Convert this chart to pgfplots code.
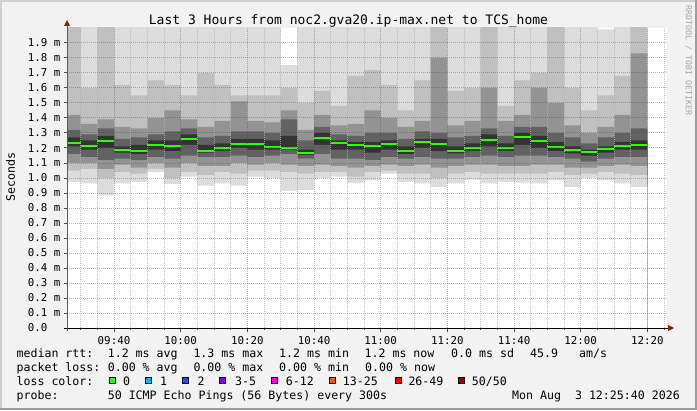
\documentclass[border=0pt]{standalone}
\usepackage{fontspec}
\setmainfont{DejaVu Sans Mono}
\usepackage{pgfplots}
\usepackage{pgfplotstable}
\pgfplotsset{compat=1.18}

\definecolor{bg}{HTML}{F2F2F2}
\definecolor{sa}{HTML}{DCDCDC}
\definecolor{sb}{HTML}{C0C0C0}
\definecolor{sc}{HTML}{939393}
\definecolor{sd}{HTML}{626262}
\definecolor{se}{HTML}{333333}
\definecolor{medgreen}{HTML}{2EFF00}
\definecolor{arrowred}{HTML}{8B1A1A}
\definecolor{lc0}{HTML}{26FF00}
\definecolor{lc1}{HTML}{00B8FF}
\definecolor{lc2}{HTML}{0059FF}
\definecolor{lc3}{HTML}{7E00FF}
\definecolor{lc6}{HTML}{FF00FF}
\definecolor{lc13}{HTML}{FF5500}
\definecolor{lc26}{HTML}{FF0000}
\definecolor{lc50}{HTML}{A00000}

% t = minutes after 09:00; one row per 5-minute smoke column
\pgfplotstableread{
t    mn    p05  p15  p30  p42   med   p58  p70  p85  p95  mx
25.9 0.975 1.05 1.10 1.16 1.21  1.235 1.27 1.32 1.42 2.10 2.10
30   0.965 1.06 1.10 1.14 1.19  1.213 1.25 1.29 1.36 1.60 2.10
35   0.885 1.00 1.06 1.12 1.20  1.249 1.28 1.33 1.39 2.10 2.10
40   0.965 1.04 1.09 1.13 1.17  1.189 1.21 1.26 1.34 1.62 2.10
45   0.975 1.03 1.07 1.12 1.16  1.182 1.22 1.27 1.33 1.55 2.10
50   1.040 1.06 1.10 1.14 1.19  1.220 1.25 1.29 1.40 1.65 2.10
55   0.960 1.00 1.07 1.13 1.18  1.215 1.25 1.31 1.45 1.62 2.10
60   1.010 1.04 1.10 1.15 1.22  1.262 1.29 1.33 1.39 1.55 2.10
65   0.950 1.02 1.08 1.14 1.17  1.182 1.22 1.27 1.34 1.70 2.10
70   0.965 1.04 1.08 1.14 1.18  1.202 1.23 1.28 1.38 1.62 2.10
75   0.950 1.03 1.10 1.15 1.20  1.229 1.26 1.31 1.51 1.55 2.10
80   1.010 1.05 1.09 1.14 1.19  1.229 1.26 1.31 1.38 1.55 2.10
85   1.000 1.05 1.10 1.15 1.19  1.207 1.25 1.30 1.37 1.55 2.10
90   0.915 1.04 1.09 1.16 1.19  1.202 1.28 1.39 1.45 1.60 1.753
95   0.920 1.03 1.08 1.13 1.155 1.169 1.19 1.25 1.32 1.50 2.10
100  1.000 1.04 1.09 1.16 1.22  1.269 1.30 1.34 1.42 1.58 2.10
105  1.010 1.04 1.08 1.13 1.19  1.235 1.25 1.29 1.35 1.48 2.10
110  0.970 1.01 1.07 1.13 1.19  1.220 1.24 1.28 1.36 1.68 2.10
115  0.985 1.04 1.08 1.12 1.17  1.213 1.24 1.30 1.45 1.72 2.10
120  1.030 1.05 1.09 1.14 1.19  1.227 1.25 1.30 1.40 1.62 2.10
125  0.975 1.03 1.08 1.13 1.16  1.182 1.21 1.26 1.34 1.45 2.10
130  0.965 1.03 1.09 1.14 1.20  1.240 1.26 1.31 1.38 1.65 2.10
135  0.940 1.00 1.07 1.13 1.18  1.227 1.26 1.30 1.80 2.10 2.10
140  0.965 1.03 1.08 1.13 1.165 1.182 1.21 1.27 1.35 1.58 2.10
145  0.990 1.04 1.09 1.14 1.18  1.198 1.23 1.28 1.38 1.60 2.10
150  0.965 1.03 1.09 1.15 1.21  1.256 1.29 1.33 1.60 2.10 2.10
155  0.975 1.03 1.08 1.14 1.18  1.202 1.23 1.28 1.38 1.48 2.10
160  0.970 1.03 1.08 1.15 1.22  1.276 1.30 1.34 1.42 1.65 2.10
165  0.965 1.03 1.09 1.15 1.20  1.249 1.28 1.34 1.60 1.70 2.10
170  0.985 1.04 1.09 1.14 1.18  1.209 1.24 1.30 1.50 2.10 2.10
175  0.940 1.02 1.07 1.13 1.165 1.189 1.21 1.27 1.35 1.60 2.10
180  1.000 1.03 1.07 1.11 1.15  1.176 1.19 1.23 1.30 1.45 2.10
185  0.985 1.04 1.08 1.13 1.17  1.191 1.21 1.27 1.34 1.55 1.99
190  0.965 1.03 1.09 1.14 1.19  1.215 1.24 1.30 1.42 1.68 2.10
195  0.940 1.02 1.08 1.14 1.19  1.222 1.25 1.33 1.83 2.10 2.10
200  0.940 1.02 1.08 1.14 1.19  1.222 1.25 1.33 1.83 2.10 2.10
}\smoke

\newcommand{\lf}{\fontsize{11.6bp}{13bp}\selectfont}

\begin{document}
\begin{tikzpicture}[x=1bp,y=1bp]
\useasboundingbox (0,0) rectangle (697,410);
\fill[bg] (0,0) rectangle (697,410);
\fill[black!19] (0,408) rectangle (697,410);
\fill[black!19] (0,0) rectangle (2,410);
\fill[black!38] (0,0) rectangle (697,2);
\fill[black!38] (695,0) rectangle (697,410);

\begin{axis}[
  at={(67bp,82bp)}, anchor=south west,
  scale only axis, width=600bp, height=300bp,
  xmin=25.9, xmax=205.9, ymin=0, ymax=2.0,
  axis on top,
  axis background/.style={fill=white},
  axis x line*=bottom, axis y line*=left,
  x axis line style={black, line width=1bp},
  y axis line style={black!65, line width=1bp},
  xtick={40,60,80,100,120,140,160,180,200},
  xticklabels={09:40,10:00,10:20,10:40,11:00,11:20,11:40,12:00,12:20},
  minor xtick={30,35,45,50,55,65,70,75,85,90,95,105,110,115,125,130,135,145,150,155,165,170,175,185,190,195,205},
  ytick={0,0.1,0.2,0.3,0.4,0.5,0.6,0.7,0.8,0.9,1.0,1.1,1.2,1.3,1.4,1.5,1.6,1.7,1.8,1.9},
  yticklabels={0.0\phantom{ m},0.1 m,0.2 m,0.3 m,0.4 m,0.5 m,0.6 m,0.7 m,0.8 m,0.9 m,1.0 m,1.1 m,1.2 m,1.3 m,1.4 m,1.5 m,1.6 m,1.7 m,1.8 m,1.9 m},
  tick align=outside,
  major tick length=3.5bp, minor tick length=2bp,
  tick style={black!70, line width=1bp},
  xmajorgrids, xminorgrids, ymajorgrids,
  major grid style={draw=red, draw opacity=0.4, dash pattern=on 1bp off 1bp, line width=1bp},
  minor grid style={draw=black!30, draw opacity=0.8, dash pattern=on 1bp off 1bp, line width=1bp},
  xticklabel style={font=\fontsize{10.8bp}{12bp}\selectfont, anchor=north, inner sep=0pt, yshift=-5bp},
  yticklabel style={font=\fontsize{10.8bp}{12bp}\selectfont, anchor=east, inner sep=0pt, xshift=-3bp},
]
\addplot[const plot, fill=sa, draw=none] table[x=t,y=mx]{\smoke} \closedcycle;
\addplot[const plot, fill=sb, draw=none] table[x=t,y=p95]{\smoke} \closedcycle;
\addplot[const plot, fill=sc, draw=none] table[x=t,y=p85]{\smoke} \closedcycle;
\addplot[const plot, fill=sd, draw=none] table[x=t,y=p70]{\smoke} \closedcycle;
\addplot[const plot, fill=se, draw=none] table[x=t,y=p58]{\smoke} \closedcycle;
\addplot[const plot, fill=sd, draw=none] table[x=t,y=p42]{\smoke} \closedcycle;
\addplot[const plot, fill=sc, draw=none] table[x=t,y=p30]{\smoke} \closedcycle;
\addplot[const plot, fill=sb, draw=none] table[x=t,y=p15]{\smoke} \closedcycle;
\addplot[const plot, fill=sa, draw=none] table[x=t,y=p05]{\smoke} \closedcycle;
\addplot[const plot, fill=white, draw=none] table[x=t,y=mn]{\smoke} \closedcycle;
\addplot[jump mark left, draw=medgreen, line width=2bp] table[x=t,y=med]{\smoke};
\end{axis}

% axis extensions and arrows
\draw[black, line width=1bp] (64,82) -- (668,82);
\draw[black!65, line width=1bp] (67,79) -- (67,385);
\fill[arrowred] (668,85) -- (668,79) -- (674,82) -- cycle;
\fill[arrowred] (64,384) -- (70,384) -- (67,390) -- cycle;

% title and side labels
\node[anchor=base, inner sep=0pt, font=\fontsize{13bp}{15bp}\selectfont] at (348.5,386) {Last 3 Hours from noc2.gva20.ip-max.net to TCS\_home};
\node[rotate=90, inner sep=0pt, font=\lf] at (10.5,233) {Seconds};
\node[rotate=-90, inner sep=0pt, text=black!35, font=\fontsize{8.3bp}{10bp}\selectfont] at (688.5,349.5) {RRDTOOL / TOBI OETIKER};

% legend
\begin{scope}[every node/.style={anchor=base west, inner sep=0pt, font=\lf}]
\node at (16.4,53) {median rtt:};
\node at (107.6,53) {1.2 ms avg};
\node at (193.3,53) {1.3 ms max};
\node at (279,53) {1.2 ms min};
\node at (364.4,53) {1.2 ms now};
\node at (451,53) {0.0 ms sd};
\node at (530,53) {45.9};
\node at (579,53) {am/s};
\node at (16.4,39) {packet loss:};
\node at (107.6,39) {0.00 \% avg};
\node at (193.3,39) {0.00 \% max};
\node at (279,39) {0.00 \% min};
\node at (365,39) {0.00 \% now};
\node at (16.4,25) {loss color:};
\node at (123,25) {0};
\node at (160,25) {1};
\node at (197.3,25) {2};
\node at (235,25) {3-5};
\node at (285.7,25) {6-12};
\node at (342.7,25) {13-25};
\node at (408.3,25) {26-49};
\node at (471.7,25) {50/50};
\node at (16.4,11) {probe:};
\node at (107.6,11) {50 ICMP Echo Pings (56 Bytes) every 300s};
\node[anchor=base east] at (680,11) {Mon Aug~~3 12:25:40 2026};
\end{scope}
\foreach \bx/\bc in {109/lc0,145.3/lc1,182/lc2,219.3/lc3,271/lc6,329.3/lc13,395/lc26,457.7/lc50}
  \filldraw[fill=\bc, draw=black, line width=1bp] (\bx+0.5,26.2) rectangle (\bx+6.5,32.2);
\end{tikzpicture}
\end{document}
